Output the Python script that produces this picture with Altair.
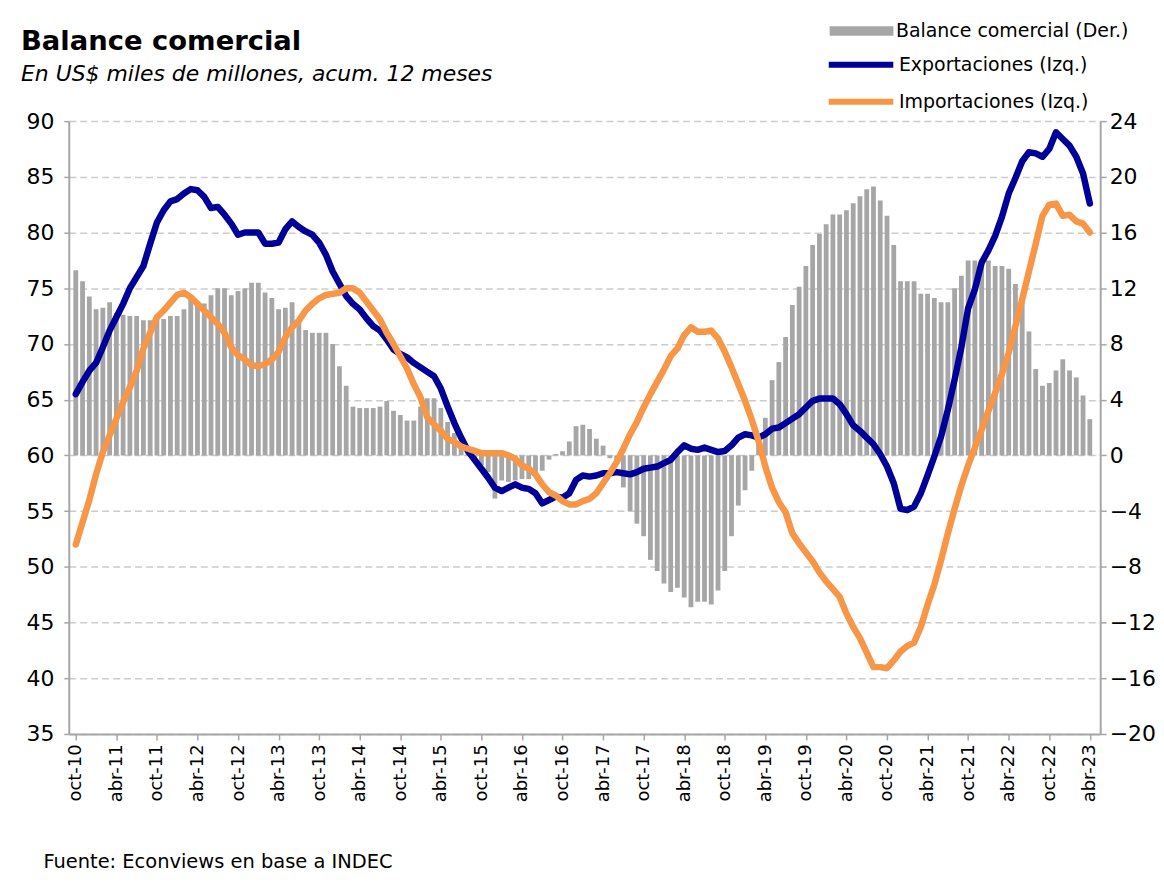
import altair as alt
import pandas as pd

FONT = "DejaVu Sans"

tick_labels = ["oct-10", "abr-11", "oct-11", "abr-12", "oct-12", "abr-13", "oct-13",
               "abr-14", "oct-14", "abr-15", "oct-15", "abr-16", "oct-16", "abr-17",
               "oct-17", "abr-18", "oct-18", "abr-19", "oct-19", "abr-20", "oct-20",
               "abr-21", "oct-21", "abr-22", "oct-22", "abr-23"]

exportaciones = [
    65.5, 66.6, 67.6, 68.3, 69.7, 71.2, 72.4, 73.6, 75.0, 76.0,
    77.0, 79.0, 80.9, 82.0, 82.8, 83.0, 83.5, 83.9, 83.8, 83.2,
    82.2, 82.3, 81.6, 80.8, 79.8, 80.0, 80.0, 80.0, 79.0, 79.0,
    79.1, 80.3, 81.0, 80.5, 80.1, 79.8, 79.1, 78.0, 76.5, 75.4,
    74.3, 73.6, 73.1, 72.3, 71.6, 71.2, 70.4, 69.5, 69.1, 68.8,
    68.3, 67.9, 67.5, 67.1, 66.0, 64.4, 62.9, 61.6, 60.4, 59.6,
    58.8, 58.0, 57.1, 56.8, 57.1, 57.4, 57.1, 57.0, 56.6, 55.7,
    56.0, 56.3, 56.2, 56.6, 57.8, 58.2, 58.1, 58.2, 58.4, 58.4,
    58.5, 58.4, 58.3, 58.5, 58.8, 58.9, 59.0, 59.3, 59.6, 60.3,
    60.9, 60.6, 60.5, 60.7, 60.5, 60.3, 60.4, 60.9, 61.6, 61.9,
    61.8, 61.6, 61.9, 62.4, 62.5, 62.9, 63.3, 63.7, 64.3, 64.9,
    65.1, 65.1, 65.1, 64.6, 63.7, 62.7, 62.2, 61.6, 61.0, 60.1,
    59.0, 57.5, 55.2, 55.1, 55.4, 56.6, 58.2, 59.9, 61.7, 64.1,
    66.8, 69.7, 73.2, 74.9, 77.3, 78.4, 79.7, 81.4, 83.5, 84.9,
    86.4, 87.2, 87.1, 86.8, 87.5, 89.0, 88.4, 87.8, 86.8, 85.3,
    82.6]

importaciones = [
    52.0, 54.0, 56.0, 58.3, 60.3, 61.8, 63.3, 64.8, 66.1, 67.6,
    69.6, 71.0, 72.4, 73.0, 73.7, 74.4, 74.6, 74.2, 73.6, 73.0,
    72.4, 71.8, 71.0, 69.7, 69.0, 68.6, 68.1, 68.0, 68.2, 68.6,
    69.3, 70.6, 71.5, 72.1, 73.0, 73.6, 74.1, 74.4, 74.5, 74.6,
    75.0, 75.0, 74.6, 73.8, 73.0, 72.2, 71.0, 70.0, 68.9, 67.8,
    66.4, 65.2, 63.4, 62.8, 62.2, 61.5, 61.2, 60.8, 60.6, 60.4,
    60.2, 60.2, 60.2, 60.2, 60.0, 59.7, 59.1, 58.8, 58.3, 57.4,
    56.7, 56.4, 55.9, 55.6, 55.6, 55.9, 56.1, 56.6, 57.5, 58.4,
    59.4, 60.6, 61.9, 63.0, 64.3, 65.5, 66.6, 67.7, 68.9, 69.6,
    70.8, 71.5, 71.1, 71.1, 71.2, 70.5, 69.3, 67.9, 66.4, 64.9,
    63.2, 61.3, 59.0, 57.1, 55.8, 54.9, 53.0, 52.1, 51.3, 50.5,
    49.5, 48.7, 48.0, 47.3, 45.8, 44.6, 43.6, 42.3, 41.0, 41.0,
    40.9, 41.6, 42.4, 42.9, 43.2, 44.6, 46.6, 48.4, 50.6, 53.0,
    55.2, 57.3, 59.1, 60.7, 62.3, 64.0, 65.6, 67.3, 69.2, 71.6,
    74.0, 76.5, 79.0, 81.5, 82.5, 82.6, 81.5, 81.6, 81.0, 80.8,
    80.0]

balance = [
    13.3, 12.5, 11.4, 10.5, 10.6, 11.0, 10.2, 10.1, 10.0, 10.0,
    9.7, 9.7, 9.8, 9.8, 10.0, 10.0, 10.5, 11.3, 11.0, 10.9,
    11.5, 12.0, 12.0, 11.5, 11.8, 12.0, 12.4, 12.4, 11.7, 11.3,
    10.5, 10.6, 11.0, 9.8, 9.0, 8.8, 8.8, 8.8, 8.0, 6.4,
    5.0, 3.5, 3.4, 3.4, 3.4, 3.5, 3.9, 3.2, 2.9, 2.5,
    2.5, 3.5, 4.1, 4.1, 3.4, 2.4, 1.6, 0.8, 0.2, -0.3,
    -0.7, -1.2, -3.1, -1.8, -1.9, -1.8, -1.7, -1.7, -1.3, -1.1,
    -0.3, 0.1, 0.3, 1.0, 2.1, 2.2, 1.9, 1.2, 0.7, -0.2,
    -0.6, -2.3, -4.0, -4.9, -5.8, -7.5, -8.3, -9.2, -9.8, -9.5,
    -10.2, -10.9, -10.5, -10.5, -10.7, -9.7, -8.3, -5.8, -3.6, -2.5,
    -1.1, 1.0, 2.7, 5.4, 6.7, 8.5, 10.8, 12.1, 13.6, 15.1,
    15.9, 16.6, 17.3, 17.3, 17.6, 18.1, 18.6, 19.1, 19.3, 18.3,
    17.2, 15.1, 12.5, 12.5, 12.5, 11.6, 11.6, 11.3, 11.0, 11.0,
    12.0, 12.9, 14.0, 14.0, 14.0, 14.0, 13.6, 13.6, 13.4, 12.3,
    11.0, 8.9, 6.2, 5.0, 5.2, 6.1, 6.9, 6.1, 5.6, 4.3,
    2.6]

S_BAL = "Balance comercial (Der.)"
S_EXP = "Exportaciones (Izq.)"
S_IMP = "Importaciones (Izq.)"

idx = list(range(len(balance)))
bars_df = pd.DataFrame({"i": idx, "v": balance, "serie": S_BAL})
lines_df = pd.concat([
    pd.DataFrame({"i": idx, "v": exportaciones, "serie": S_EXP}),
    pd.DataFrame({"i": idx, "v": importaciones, "serie": S_IMP}),
], ignore_index=True)

label_expr = "[" + ",".join("'%s'" % t for t in tick_labels) + "][round(datum.value/6)]"
GRAY = "#a6a6a6"

xscale = alt.Scale(domain=[-0.3, 150.8], nice=False, zero=False)
xaxis = alt.Axis(
    values=list(range(0, 151, 6)), labelExpr=label_expr, labelAngle=-90,
    labelFont=FONT, labelFontSize=18, labelColor="black", labelPadding=4,
    tickSize=6, tickColor=GRAY, tickWidth=1.5, domainColor=GRAY, domainWidth=2,
    grid=False, title="Fuente: Econviews en base a INDEC", titleX=-26, titleY=134,
    titleAlign="left", titleBaseline="alphabetic", titleFont=FONT,
    titleFontSize=19.5, titleFontWeight="normal", titleColor="black")

legend_common = dict(title=None, orient="none", legendX=786, labelFont=FONT,
                     labelFontSize=19, labelColor="black", labelOffset=25,
                     labelLimit=500, padding=0, symbolSize=256)

bars = alt.Chart(bars_df).mark_bar(size=4.8).encode(
    x=alt.X("i:Q", scale=xscale, axis=xaxis),
    y=alt.Y("v:Q", scale=alt.Scale(domain=[-20, 24], nice=False, zero=False),
            axis=alt.Axis(orient="right", values=list(range(-20, 25, 4)), grid=False,
                          title=None, labelFont=FONT, labelFontSize=22, labelColor="black",
                          labelPadding=3, tickSize=6, tickColor=GRAY, tickWidth=1.5,
                          domainColor=GRAY, domainWidth=2)),
    y2=alt.datum(0),
    fill=alt.Fill("serie:N", scale=alt.Scale(domain=[S_BAL], range=[GRAY]),
                  legend=alt.Legend(legendY=-100, symbolType="M-4,-0.6H4V0.6H-4Z",
                                    symbolStrokeWidth=0, **legend_common)),
)

lines = alt.Chart(lines_df).mark_line(strokeWidth=6.5, strokeCap="round", strokeJoin="round").encode(
    x=alt.X("i:Q", scale=xscale, axis=xaxis),
    y=alt.Y("v:Q", scale=alt.Scale(domain=[35, 90], nice=False, zero=False),
            axis=alt.Axis(orient="left", values=list(range(35, 91, 5)), grid=True,
                          gridDash=[7, 4], gridColor="#cccccc", gridWidth=1.5,
                          title=None, labelFont=FONT, labelFontSize=22, labelColor="black",
                          labelPadding=10, tickSize=5, tickColor=GRAY, tickWidth=1.5,
                          domainColor=GRAY, domainWidth=2)),
    stroke=alt.Stroke("serie:N", scale=alt.Scale(domain=[S_EXP, S_IMP], range=["#000099", "#f79646"]),
                      legend=alt.Legend(legendY=-67.5, symbolType="M-4.3,0H3.8", symbolStrokeWidth=6,
                                        rowPadding=13, **legend_common)),
)

chart = alt.layer(bars, lines).resolve_scale(y="independent").properties(
    width=1035, height=615,
    padding={"left": 13, "top": 12, "right": 0, "bottom": 0},
    title=alt.Title("Balance comercial", subtitle="En US$ miles de millones, acum. 12 meses",
                    anchor="start", frame="bounds", font=FONT, fontSize=27.5, fontWeight="bold",
                    color="black", subtitleFont=FONT, subtitleFontSize=22,
                    subtitleFontStyle="italic", subtitleColor="black", subtitlePadding=9,
                    offset=-64, dx=-5),
).configure_view(stroke=None)

chart.save("out.html", embed_options={"renderer": "svg", "actions": False})
